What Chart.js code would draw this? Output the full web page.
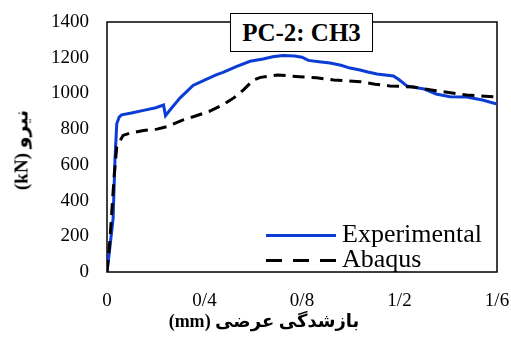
<!DOCTYPE html>
<html>
<head>
<meta charset="utf-8">
<script src="https://cdn.jsdelivr.net/npm/chart.js@4.4.1/dist/chart.umd.min.js"></script>
<style>
  body { margin: 0; background: #fff; }
  #wrap { position: relative; width: 511px; height: 340px; font-family: "Liberation Serif", "DejaVu Sans", serif; }
  #titleBox {
    position: absolute; left: 230px; top: 13px; width: 141px; height: 37px;
    border: 1.5px solid #000; background: #fff;
    font-weight: bold; font-size: 25px; line-height: 37px; text-align: center;
  }
  .leg { position: absolute; font-size: 26px; line-height: 26px; }
  .sample { position: absolute; width: 70px; height: 3px; }
  #yTitle {
    position: absolute; left: 21px; top: 150px; white-space: nowrap;
    transform: translate(-50%, -50%) rotate(-90deg);
    font-weight: bold; font-size: 19px; direction: rtl;
  }
  #xTitle {
    position: absolute; left: 264px; top: 321px; white-space: nowrap;
    transform: translate(-50%, -50%);
    font-weight: bold; font-size: 18px; direction: rtl;
  }
</style>
</head>
<body>
<div id="wrap">
  <canvas id="chart"></canvas>
  <div id="titleBox">PC-2: CH3</div>
  <div class="sample" style="left:266px; top:234px; background:#0b3cd6;"></div>
  <div class="leg" style="left:342px; top:221px;">Experimental</div>
  <div class="sample" style="left:266px; top:259px; background:repeating-linear-gradient(to right,#000 0 16px,transparent 16px 27px);"></div>
  <div class="leg" style="left:342px; top:246px;">Abaqus</div>
  <div id="yTitle">نیرو (kN)</div>
  <div id="xTitle">بازشدگی عرضی (mm)</div>
</div>
<script>
// Experimental curve (mm, kN)
const expX = [0, 0.012, 0.025, 0.033, 0.04, 0.05, 0.06, 0.1, 0.15, 0.2, 0.232, 0.24, 0.26, 0.3, 0.353, 0.4, 0.45, 0.476, 0.53, 0.587, 0.64, 0.68, 0.722, 0.77, 0.8, 0.826, 0.87, 0.915, 0.96, 0.997, 1.038, 1.07, 1.107, 1.175, 1.2, 1.23, 1.3, 1.35, 1.407, 1.476, 1.54, 1.6];
const expY = [0, 140, 300, 640, 830, 868, 880, 890, 905, 920, 935, 875, 910, 975, 1045, 1075, 1105, 1118, 1150, 1180, 1193, 1205, 1213, 1210, 1203, 1185, 1178, 1170, 1158, 1142, 1131, 1120, 1109, 1098, 1075, 1042, 1025, 997, 982, 980, 963, 941];

// Abaqus curve (mm, kN)
const abqX = [0, 0.012, 0.03, 0.04, 0.066, 0.1, 0.15, 0.205, 0.25, 0.31, 0.36, 0.42, 0.48, 0.52, 0.56, 0.6, 0.63, 0.7, 0.79, 0.86, 0.93, 1.04, 1.1, 1.16, 1.257, 1.35, 1.476, 1.6];
const abqY = [0, 180, 550, 700, 765, 780, 792, 800, 815, 851, 872, 900, 940, 975, 1020, 1075, 1090, 1103, 1094, 1088, 1075, 1066, 1052, 1042, 1036, 1015, 991, 980];

const xTickLabels = ["0", "0/4", "0/8", "1/2", "1/6"];

const toPoints = (xs, ys) => xs.map((x, i) => ({ x, y: ys[i] }));

// frame around the plot area
const frame = {
  id: "frame",
  beforeDatasetsDraw(chart) {
    const { ctx, chartArea: a } = chart;
    ctx.save();
    ctx.strokeStyle = "#000";
    ctx.lineWidth = 1.5;
    ctx.strokeRect(a.left, a.top, a.right - a.left, a.bottom - a.top);
    ctx.restore();
  }
};

const tickFont = { family: "Liberation Serif", size: 19 };

function draw() {
  new Chart(document.getElementById("chart"), {
    type: "line",
    data: {
      datasets: [
        { label: "Experimental", data: toPoints(expX, expY), borderColor: "#0b3cd6", borderWidth: 3, pointRadius: 0, tension: 0, order: 2 },
        { label: "Abaqus", data: toPoints(abqX, abqY), borderColor: "#000", borderWidth: 3, borderDash: [12, 7], pointRadius: 0, tension: 0, order: 1 }
      ]
    },
    options: {
      responsive: true,
      maintainAspectRatio: false,
      animation: false,
      layout: { padding: { top: 22, right: 14, left: 0, bottom: 0 } },
      plugins: { legend: { display: false }, tooltip: { enabled: false } },
      scales: {
        x: {
          type: "linear",
          min: 0, max: 1.6,
          grid: { display: false, drawTicks: false },
          border: { display: false },
          ticks: { stepSize: 0.4, padding: 18, color: "#000", font: tickFont, maxRotation: 0, callback: (v, i) => xTickLabels[i] },
          afterFit: s => { s.height = 68; s.paddingLeft = 0; s.paddingRight = 0; }
        },
        y: {
          min: 0, max: 1400,
          grid: { display: false, drawTicks: false },
          border: { display: false },
          ticks: { stepSize: 200, padding: 18, color: "#000", font: tickFont, callback: v => String(v) },
          afterFit: s => { s.width = 107; s.paddingTop = 0; s.paddingBottom = 0; }
        }
      }
    },
    plugins: [frame]
  });
}

document.fonts.load("19px 'Liberation Serif'").then(draw, draw);
</script>
</body>
</html>
